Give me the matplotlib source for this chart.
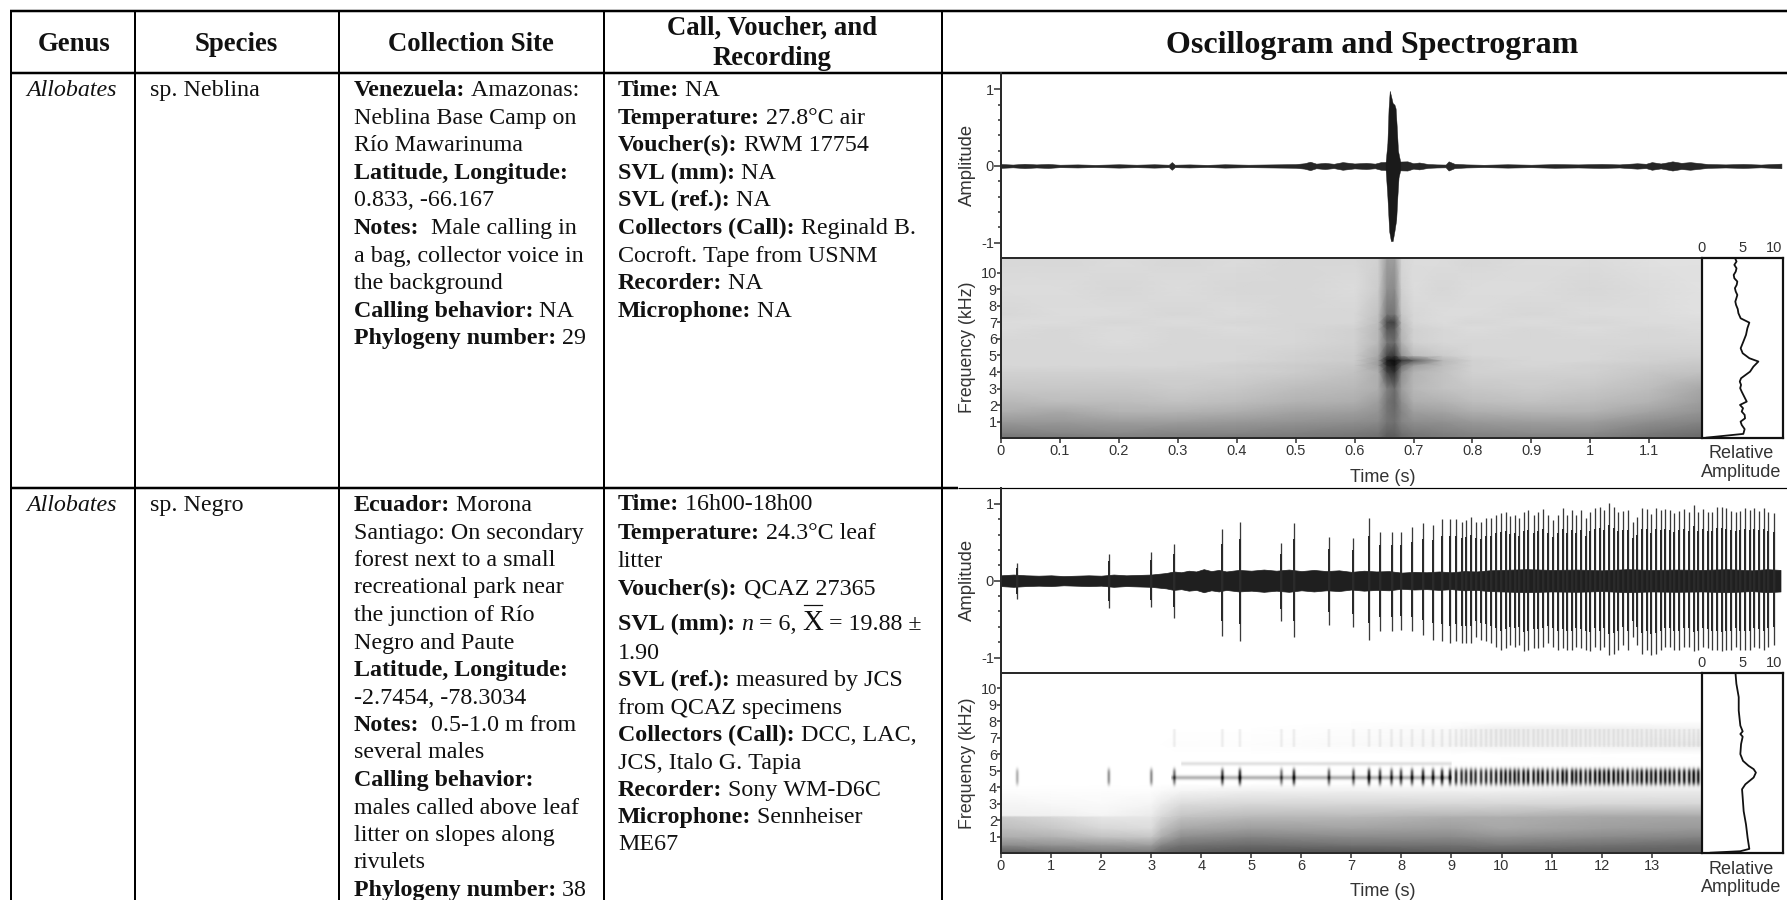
import numpy as np
import matplotlib
matplotlib.use("Agg")
import matplotlib.pyplot as plt

W, H = 1787, 900
SERIF = "Liberation Serif"
SANS = "Liberation Sans"
INK = "#2a2a2a"

# ---------- table text ----------
headers = ["Genus", "Species", "Collection Site", ["Call, Voucher, and", "Recording"], "Oscillogram and Spectrogram"]
genus = ["Allobates", "Allobates"]
species = ["sp. Neblina", "sp. Negro"]
site_1 = [[("Venezuela:", "b"), (" Amazonas:", "r")], [("Neblina Base Camp on", "r")], [("Río Mawarinuma", "r")],
          [("Latitude, Longitude:", "b")], [("0.833, -66.167", "r")], [("Notes:", "b"), ("  Male calling in", "r")],
          [("a bag, collector voice in", "r")], [("the background", "r")], [("Calling behavior:", "b"), (" NA", "r")],
          [("Phylogeny number:", "b"), (" 29", "r")]]
call_1 = [[("Time:", "b"), (" NA", "r")], [("Temperature:", "b"), (" 27.8°C air", "r")],
          [("Voucher(s):", "b"), (" RWM 17754", "r")], [("SVL (mm):", "b"), (" NA", "r")],
          [("SVL (ref.):", "b"), (" NA", "r")], [("Collectors (Call):", "b"), (" Reginald B.", "r")],
          [("Cocroft. Tape from USNM", "r")], [("Recorder:", "b"), (" NA", "r")], [("Microphone:", "b"), (" NA", "r")]]
site_2 = [[("Ecuador:", "b"), (" Morona", "r")], [("Santiago: On secondary", "r")], [("forest next to a small", "r")],
          [("recreational park near", "r")], [("the junction of Río", "r")], [("Negro and Paute", "r")],
          [("Latitude, Longitude:", "b")], [("-2.7454, -78.3034", "r")], [("Notes:", "b"), ("  0.5-1.0 m from", "r")],
          [("several males", "r")], [("Calling behavior:", "b")], [("males called above leaf", "r")],
          [("litter on slopes along", "r")], [("rivulets", "r")], [("Phylogeny number:", "b"), (" 38", "r")]]
call_2 = [[("Time:", "b"), (" 16h00-18h00", "r")], [("Temperature:", "b"), (" 24.3°C leaf", "r")], [("litter", "r")],
          [("Voucher(s):", "b"), (" QCAZ 27365", "r")],
          [("SVL (mm):", "b"), (" ", "r"), ("n", "i"), (" = 6, ", "r"), ("X", "x"), (" = 19.88 ±", "r")],
          [("1.90", "r")], [("SVL (ref.):", "b"), (" measured by JCS", "r")], [("from QCAZ specimens", "r")],
          [("Collectors (Call):", "b"), (" DCC, LAC,", "r")], [("JCS, Italo G. Tapia", "r")],
          [("Recorder:", "b"), (" Sony WM-D6C", "r")], [("Microphone:", "b"), (" Sennheiser", "r")], [("ME67", "r")]]

# ---------- oscillogram 1 ----------
osc1_noise_t = [0, .02, .04, .06, .08, .1, .13, .16, .2, .23, .26, .285, .29, .295, .32, .35, .38, .42, .46, .5, .515, .525, .535, .55, .565, .58, .6, .62, .635, .645, .69, .7, .71, .725, .74, .755, .76, .77, .79, .82, .86, .9, .94, .98, 1.02, 1.05, 1.08, 1.095, 1.105, 1.12, 1.13, 1.14, 1.155, 1.17, 1.2, 1.23, 1.26, 1.29, 1.325]
osc1_noise_a = [.025, .018, .028, .02, .026, .016, .02, .014, .022, .016, .022, .016, .05, .016, .02, .014, .022, .016, .02, .024, .035, .055, .03, .04, .028, .05, .032, .04, .03, .05, .06, .035, .045, .025, .02, .018, .06, .028, .02, .015, .022, .016, .024, .02, .026, .02, .035, .028, .05, .032, .045, .06, .04, .05, .025, .02, .026, .018, .03]
osc1_up_t = [.653, .656, .658, .66, .662, .665, .668, .67, .672, .674, .678]
osc1_up_a = [.05, .3, .75, .98, .92, .82, .8, .75, .5, .2, .05]
osc1_lo_t = [.653, .656, .659, .662, .665, .668, .671, .673, .675, .678]
osc1_lo_a = [-.05, -.4, -.85, -.98, -.98, -.85, -.7, -.4, -.15, -.05]

# ---------- oscillogram 2 ----------
osc2_noise_t = [0, .25, .5, .75, 1, 1.25, 1.5, 1.75, 2, 2.25, 2.5, 2.75, 3, 3.15, 3.3, 3.45, 3.6, 3.75, 3.9, 4.05, 4.2, 4.35, 4.5, 4.75, 5, 5.25, 5.5, 5.75, 6, 6.25, 6.5, 6.75, 7, 7.25, 7.5, 7.75, 8, 8.25, 8.5, 8.75, 9, 9.25, 9.5, 9.75, 10, 10.5, 11, 11.5, 12, 12.5, 13, 13.5, 14, 14.5, 15, 15.3, 15.57]
osc2_noise_a = [.07, .08, .07, .065, .07, .06, .065, .07, .065, .08, .07, .075, .08, .09, .1, .12, .11, .13, .12, .15, .125, .14, .12, .14, .13, .145, .13, .145, .125, .14, .125, .135, .115, .13, .12, .125, .105, .115, .11, .12, .11, .125, .12, .135, .14, .15, .14, .145, .135, .15, .14, .145, .14, .15, .135, .15, .14]
call_t = [.32, 2.15, 3.0, 3.46, 4.42, 4.77, 5.6, 5.85, 6.55, 7.04, 7.35, 7.57, 7.8, 7.99, 8.21, 8.43, 8.63, 8.81, 8.97, 9.09, 9.20, 9.29, 9.39, 9.48, 9.59, 9.69, 9.79, 9.89, 9.99, 10.08, 10.17, 10.26, 10.34, 10.44, 10.53, 10.64, 10.73, 10.82, 10.92, 11.02, 11.12, 11.22, 11.30, 11.41, 11.49, 11.58, 11.68, 11.77, 11.87, 11.96, 12.05, 12.14, 12.24, 12.33, 12.42, 12.52, 12.62, 12.71, 12.80, 12.90, 12.99, 13.08, 13.18, 13.27, 13.36, 13.45, 13.55, 13.65, 13.75, 13.84, 13.93, 14.03, 14.12, 14.21, 14.31, 14.40, 14.49, 14.59, 14.68, 14.77, 14.87, 14.96, 15.05, 15.15, 15.24, 15.33, 15.44]
call_up = [.235, .35, .37, .48, .67, .76, .49, .75, .57, .55, .81, .64, .64, .64, .70, .75, .73, .80, .80, .80, .77, .79, .83, .77, .76, .81, .81, .855, .88, .89, .84, .855, .81, .90, .92, .855, .89, .93, .855, .79, .855, .94, .855, .92, .855, .92, .81, .90, .94, .96, .92, 1.01, .96, .89, .91, .92, .77, .83, .94, .93, .87, .94, .92, .93, .92, .88, .91, .93, .90, .99, .90, .93, .89, .90, .96, .96, .94, .91, .90, .91, .94, .92, .94, .91, .94, .89, .88]
call_lo = [-.24, -.36, -.34, -.48, -.72, -.79, -.52, -.73, -.57, -.6, -.77, -.66, -.66, -.64, -.66, -.71, -.77, -.79, -.815, -.79, -.815, -.815, -.815, -.73, -.77, -.79, -.815, -.86, -.90, -.88, -.84, -.86, -.84, -.92, -.90, -.88, -.88, -.86, -.815, -.86, -.90, -.88, -.90, -.90, -.86, -.88, -.90, -.92, -.86, -.90, -.86, -.97, -.95, -.90, -.84, -.90, -.73, -.84, -.95, -.90, -.97, -.95, -.90, -.86, -.86, -.90, -.90, -.86, -.86, -.92, -.90, -.86, -.88, -.90, -.90, -.92, -.90, -.90, -.86, -.90, -.90, -.90, -.86, -.88, -.90, -.86, -.84]

# ---------- spectrogram 1 (grey level, 1 = white) ----------
spec1_t = [0, .1, .2, .3, .4, .5, .6, .64, .655, .668, .68, .70, .75, .8, .9, 1, 1.1, 1.187]
spec1_f = [.03, .3, 1, 1.6, 2.2, 3, 4, 4.4, 4.7, 5, 5.8, 6.6, 7, 7.5, 9, 10.9]
spec1_grey = [
    [.46, .48, .50, .50, .48, .48, .46, .44, .36, .36, .42, .46, .48, .50, .50, .50, .45, .42],
    [.50, .52, .54, .52, .52, .50, .48, .46, .38, .38, .44, .48, .50, .52, .54, .54, .48, .44],
    [.60, .60, .62, .62, .60, .58, .56, .54, .46, .44, .52, .56, .57, .60, .62, .62, .56, .52],
    [.68, .66, .70, .70, .68, .64, .62, .58, .46, .42, .52, .62, .64, .68, .70, .70, .64, .58],
    [.72, .74, .74, .76, .74, .70, .68, .62, .46, .40, .56, .68, .70, .74, .76, .74, .70, .62],
    [.78, .78, .78, .80, .78, .74, .72, .68, .50, .42, .62, .72, .76, .78, .80, .78, .74, .66],
    [.82, .82, .82, .82, .82, .80, .76, .68, .26, .18, .56, .70, .76, .82, .82, .82, .78, .76],
    [.84, .84, .84, .84, .82, .80, .78, .62, .16, .08, .42, .62, .74, .82, .84, .82, .80, .78],
    [.84, .84, .84, .84, .84, .82, .80, .62, .10, .05, .20, .36, .72, .82, .84, .84, .82, .80],
    [.84, .84, .84, .84, .84, .82, .80, .66, .28, .22, .58, .74, .80, .84, .84, .84, .82, .82],
    [.84, .84, .86, .84, .84, .84, .82, .72, .46, .42, .70, .82, .84, .84, .84, .84, .84, .84],
    [.86, .84, .86, .84, .86, .84, .82, .72, .34, .34, .72, .82, .84, .86, .84, .86, .84, .86],
    [.86, .86, .84, .86, .84, .84, .84, .74, .28, .26, .74, .84, .86, .84, .86, .84, .86, .86],
    [.84, .86, .86, .84, .86, .84, .84, .76, .46, .46, .78, .84, .86, .86, .84, .86, .86, .88],
    [.86, .86, .84, .86, .84, .84, .86, .80, .56, .54, .82, .86, .84, .86, .86, .84, .86, .88],
    [.84, .84, .86, .84, .86, .84, .84, .82, .62, .62, .84, .86, .86, .84, .86, .86, .88, .88],
]

# ---------- spectrogram 2 ----------
spec2_t = [0, 1, 2, 3, 3.2, 3.6, 5, 7, 9, 10, 12, 14]
spec2_f = [.03, .15, .5, 1, 1.5, 2.2, 2.3, 3, 3.8, 4.2, 6, 6.6, 7.6, 8, 10.95]
spec2_grey = [
    [.40, .42, .45, .45, .42, .38, .34, .34, .36, .36, .36, .36],
    [.40, .45, .50, .50, .42, .38, .35, .35, .38, .38, .38, .38],
    [.55, .58, .60, .62, .52, .45, .42, .45, .45, .48, .45, .42],
    [.68, .70, .76, .78, .68, .56, .52, .55, .55, .58, .55, .52],
    [.74, .78, .84, .86, .76, .66, .62, .64, .62, .66, .62, .60],
    [.80, .84, .90, .90, .84, .76, .72, .72, .68, .68, .66, .65],
    [.94, .94, .96, .92, .86, .78, .74, .74, .72, .72, .68, .68],
    [.96, .97, .98, .96, .92, .86, .84, .84, .84, .84, .84, .84],
    [.99, .99, .99, .99, .98, .96, .94, .94, .94, .94, .92, .92],
    [1, 1, 1, 1, 1, 1, 1, .99, .99, .99, .98, .98],
    [1, 1, 1, 1, 1, 1, 1, 1, 1, 1, 1, 1],
    [1, 1, 1, 1, 1, .99, .99, .98, .96, .94, .94, .92],
    [1, 1, 1, 1, 1, 1, 1, .99, .98, .94, .94, .96],
    [1, 1, 1, 1, 1, 1, 1, 1, 1, 1, 1, 1],
    [1, 1, 1, 1, 1, 1, 1, 1, 1, 1, 1, 1],
]

# ---------- relative amplitude curves ----------
rel1_f = [10.87, 10.67, 10.47, 10.26, 10.06, 9.86, 9.66, 9.46, 9.26, 9.06, 8.86, 8.65, 8.45, 8.25, 8.05, 7.8, 7.55, 7.24, 6.98, 6.64, 6.24, 5.83, 5.43, 5.13, 4.83, 4.63, 4.32, 4.02, 3.62, 3.42, 3.22, 3.02, 2.81, 2.41, 2.21, 2.01, 1.81, 1.61, 1.41, 1.20, 1.0, .80, .55, .26, .20, .035]
rel1_a = [4.12, 4.3, 4.03, 4.3, 4.2, 3.95, 4.03, 4.4, 4.32, 4.1, 4.2, 4.4, 4.28, 4.15, 4.24, 4.45, 4.53, 4.81, 5.88, 5.64, 5.47, 5.14, 4.81, 5.06, 5.88, 7.0, 6.38, 5.97, 4.86, 4.7, 4.86, 4.75, 4.94, 5.35, 5.56, 4.73, 5.1, 4.94, 5.3, 5.35, 4.8, 4.94, 5.3, 5.14, 3.91, .6]
rel2_f = [10.99, 10.28, 9.47, 8.65, 7.74, 7.39, 7.23, 7.07, 6.62, 6.01, 5.6, 5.3, 5.1, 4.89, 4.59, 4.18, 3.88, 3.37, 2.55, 1.74, .93, .26, .12, .03]
rel2_a = [4.16, 4.28, 4.57, 4.57, 4.77, 5.06, 4.77, 5.06, 4.86, 4.77, 5.1, 5.79, 6.41, 6.69, 6.41, 5.39, 4.98, 5.06, 5.18, 5.47, 5.67, 5.88, 4.77, 1.1]

x_ticks_1 = [0, .1, .2, .3, .4, .5, .6, .7, .8, .9, 1, 1.1]
x_tick_labels_1 = ["0", "0.1", "0.2", "0.3", "0.4", "0.5", "0.6", "0.7", "0.8", "0.9", "1", "1.1"]
x_ticks_2 = list(range(14))
freq_ticks = list(range(1, 11))

plt.rcParams["font.family"] = [SANS, "DejaVu Sans"]
fig = plt.figure(figsize=(W / 100, H / 100), dpi=100, facecolor="white")
bg = fig.add_axes([0, 0, 1, 1])
bg.set_xlim(0, W)
bg.set_ylim(H, 0)
bg.axis("off")
px = 0.72  # points per pixel at 100 dpi


def axes_px(l, t, r, b):
    return fig.add_axes([l / W, 1 - b / H, (r - l) / W, (b - t) / H], facecolor="none")


# ---- table rules ----
col_x = [11, 134.5, 339, 604, 942]
for x in col_x:
    bg.plot([x, x], [11, 900], color="k", lw=2 * px, solid_capstyle="butt", zorder=3)
for y, x0, x1, lw in [(11, 10, W, 2.5), (72.5, 10, W, 2.5), (488, 10, 958, 2.5), (488, 958, W, 1.2)]:
    bg.plot([x0, x1], [y, y], color="k", lw=lw * px, solid_capstyle="butt", zorder=3)

# ---- table text ----
BODY = 17.3
HEAD = 19.3
rend = fig.canvas.get_renderer()


def draw_line(x, y, segs):
    for s, kind in segs:
        size, weight, style = BODY, "normal", "normal"
        if kind == "b":
            weight = "bold"
        elif kind == "i":
            style = "italic"
        elif kind == "x":
            size = BODY * 1.2
        t = bg.text(x, y, s.replace(" ", "\u00a0"), family=SERIF, fontsize=size, fontweight=weight,
                    fontstyle=style, va="baseline", ha="left", color="#111")
        e = t.get_window_extent(rend)
        if kind == "x":
            bg.plot([x + 1, e.x1 - 1], [y - 25, y - 25], color="#111", lw=1.2 * px)
        x = e.x1


for x, s in zip([74, 236, 471], headers[:3]):
    bg.text(x, 51, s, family=SERIF, fontsize=HEAD, fontweight="bold", ha="center", va="baseline", color="#111")
bg.text(772, 35, headers[3][0], family=SERIF, fontsize=HEAD, fontweight="bold", ha="center", va="baseline", color="#111")
bg.text(772, 65, headers[3][1], family=SERIF, fontsize=HEAD, fontweight="bold", ha="center", va="baseline", color="#111")
bg.text(1372, 53, headers[4], family=SERIF, fontsize=23, fontweight="bold", ha="center", va="baseline", color="#111")

for row_y, g, s in zip([96, 511], genus, species):
    bg.text(26.5, row_y, g, family=SERIF, fontsize=BODY, fontstyle="italic", va="baseline", color="#111")
    bg.text(149.5, row_y, s, family=SERIF, fontsize=BODY, va="baseline", color="#111")

for i, segs in enumerate(site_1):
    draw_line(353.5, 96 + 27.6 * i, segs)
for i, segs in enumerate(call_1):
    draw_line(618, 96 + 27.6 * i, segs)
for i, segs in enumerate(site_2):
    draw_line(353.5, 511 + 27.5 * i, segs)
call2_base = [510, 539, 567, 595, 630, 659, 686, 714, 741, 769, 796, 823, 850]
for y, segs in zip(call2_base, call_2):
    draw_line(618, y, segs)


# ---- panels ----
def style_osc(ax, tmax):
    ax.set_xlim(0, tmax)
    ax.set_ylim(-1.197, 1.206)
    for s in ["top", "right", "bottom"]:
        ax.spines[s].set_visible(False)
    ax.spines["left"].set_linewidth(2 * px)
    ax.spines["left"].set_color(INK)
    ax.set_xticks([])
    ax.set_yticks([-1, 0, 1])
    ax.set_yticklabels(["-1", "0", "1"], fontsize=10.5, color="#333")
    ax.set_yticks([-.8, -.6, -.4, -.2, .2, .4, .6, .8], minor=True)
    ax.tick_params(axis="y", which="major", length=7 * px, width=1.5 * px, color=INK, pad=0)
    ax.tick_params(axis="y", which="minor", length=3 * px, width=1.5 * px, color=INK)


def style_spec(ax, fmax, tmax, ticks, labels):
    ax.set_xlim(0, tmax)
    ax.set_ylim(.03, fmax)
    ax.set_xticks(ticks)
    ax.set_xticklabels(labels, fontsize=10.5, color="#333")
    ax.set_yticks(freq_ticks)
    ax.set_yticklabels([str(v) for v in freq_ticks], fontsize=10.5, color="#333")
    ax.tick_params(axis="y", length=4 * px, width=1.5 * px, color=INK, pad=0)
    ax.tick_params(axis="x", length=5 * px, width=1.5 * px, color=INK, pad=1)
    for s in ["left", "bottom", "top"]:
        ax.spines[s].set_linewidth(2 * px)
        ax.spines[s].set_color(INK)
    ax.spines["right"].set_visible(False)


def style_rel(ax):
    ax.set_xlim(0, 10)
    ax.xaxis.tick_top()
    ax.set_xticks([0, 5, 10])
    ax.set_xticklabels(["0", "5", "10"], fontsize=10.5, color="#333")
    ax.tick_params(axis="x", length=0, pad=2)
    ax.get_xticklabels()[2].set_horizontalalignment("right")
    ax.set_yticks([])
    for s in ax.spines.values():
        s.set_linewidth(2.2 * px)
        s.set_color("#111")


def labels(y_amp, y_freq, y_time, y_rel):
    bg.text(967, y_amp, "Amplitude", rotation=90, fontsize=13.3, color="#333", ha="center", va="center")
    bg.text(967, y_freq, "Frequency (kHz)", rotation=90, fontsize=12.8, color="#333", ha="center", va="center")
    bg.text(1383, y_time, "Time (s)", fontsize=13, color="#333", ha="center", va="center")
    bg.text(1741, y_rel, "Relative", fontsize=13, color="#333", ha="center", va="center")
    bg.text(1741, y_rel + 18.5, "Amplitude", fontsize=13, color="#333", ha="center", va="center")


# --- row 1 ---
ax = axes_px(1001, 73.5, 1782, 257.7)
style_osc(ax, 1.326)
na = np.array(osc1_noise_a)
ax.fill_between(osc1_noise_t, -na, na, color="#262626", lw=.4)
ax.fill_between(osc1_up_t, 0, osc1_up_a, color="#1a1a1a", lw=.3)
ax.fill_between(osc1_lo_t, 0, osc1_lo_a, color="#1a1a1a", lw=.3)

ax = axes_px(1001, 257.7, 1701.7, 437.7)
ax.pcolormesh(spec1_t, spec1_f, spec1_grey, cmap="gray", vmin=0, vmax=1, shading="gouraud")
style_spec(ax, 10.9, 1.189, x_ticks_1, x_tick_labels_1)

ax = axes_px(1701.7, 257.7, 1782.7, 437.7)
ax.plot(rel1_a, rel1_f, color="#111", lw=1.8 * px)
ax.set_ylim(.03, 10.9)
style_rel(ax)
labels(165, 347, 478, 454)

# --- row 2 ---
ax = axes_px(1001, 488, 1782, 672.7)
style_osc(ax, 15.6)
na = np.array(osc2_noise_a)
ax.fill_between(osc2_noise_t, -na, na, color="#1f1f1f", lw=.5)
ax.vlines(call_t, call_lo, call_up, color="#3a3a3a", lw=1.3 * px)
ax.vlines(call_t, np.array(call_lo) * .72, np.array(call_up) * .72, color="#2a2a2a", lw=2.0 * px)

ax = axes_px(1001, 672.7, 1701.7, 852.7)
ax.pcolormesh(spec2_t, spec2_f, spec2_grey, cmap="gray", vmin=0, vmax=1, shading="gouraud")

# soft dark overlay: each read call time is painted as a blurred mark in the 4-5.3 kHz band
tt = np.linspace(0, 14, 1400)
ff = np.linspace(.03, 10.95, 360)
T, F = np.meshgrid(tt, ff)
dark = np.zeros_like(T)
for t, a in zip(call_t, call_up):
    if t < 14.1:
        across = np.exp(-((T - t) / .03) ** 2)
        dark += (.95 * a + .1) * across * np.exp(-((F - 4.65) / .5) ** 4)
        if t > 3.4:
            dark += .07 * across * (np.abs(F - 7) < .55)
dark += .3 * np.exp(-((F - 4.6) / .13) ** 2) * ((T > 3.4) & (T < 9))
dark += .12 * np.exp(-((F - 5.45) / .12) ** 2) * ((T > 3.6) & (T < 9))
rgba = np.zeros(T.shape + (4,))
rgba[..., 3] = np.clip(dark, 0, .95)
ax.imshow(rgba, origin="lower", extent=[0, 14, .03, 10.95], aspect="auto", interpolation="bilinear", zorder=2)
style_spec(ax, 10.95, 14.0, x_ticks_2, [str(v) for v in x_ticks_2])

ax = axes_px(1701.7, 672.7, 1782.7, 852.7)
ax.plot(rel2_a, rel2_f, color="#111", lw=1.8 * px)
ax.set_ylim(.03, 10.95)
style_rel(ax)
labels(580, 763, 891, 869)

fig.savefig("out.png", dpi=100, facecolor="white")
